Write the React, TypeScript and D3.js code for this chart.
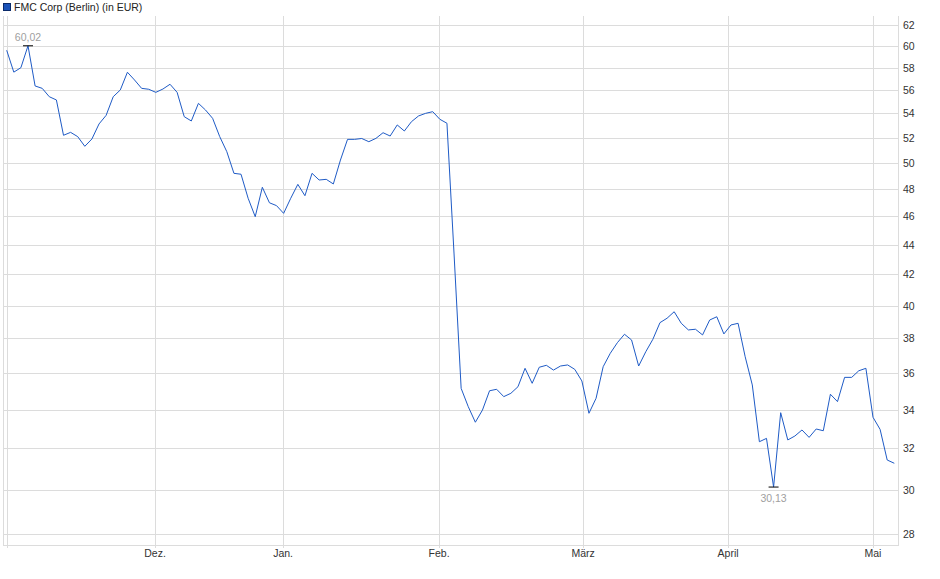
import React from "react";
import * as d3 from "d3";

const seriesName = "FMC Corp (Berlin) (in EUR)";
const prices: number[] = [
  59.6, 57.6, 58.0, 60.02, 56.37, 56.16, 55.43, 55.15, 52.19, 52.43,
  52.08, 51.3, 51.89, 53.12, 53.84, 55.43, 56.02, 57.59, 56.9, 56.16,
  56.08, 55.81, 56.1, 56.52, 55.81, 53.73, 53.37, 54.86, 54.29, 53.59,
  52.08, 50.87, 49.18, 49.11, 47.3, 45.96, 48.12, 46.97, 46.76, 46.2,
  47.3, 48.34, 47.49, 49.18, 48.67, 48.72, 48.37, 50.21, 51.86, 51.86,
  51.93, 51.67, 51.94, 52.4, 52.13, 53.04, 52.54, 53.31, 53.79, 54.01,
  54.15, 53.51, 53.18, 43.36, 35.15, 34.16, 33.34, 33.98, 35.02, 35.1,
  34.7, 34.88, 35.24, 36.27, 35.43, 36.33, 36.44, 36.17, 36.4, 36.46,
  36.21, 35.56, 33.81, 34.61, 36.36, 37.13, 37.75, 38.25, 37.91, 36.4,
  37.22, 37.95, 38.95, 39.22, 39.62, 38.91, 38.51, 38.55, 38.21, 39.11,
  39.31, 38.27, 38.81, 38.91, 36.93, 35.34, 32.34, 32.51, 30.13, 33.84,
  32.43, 32.63, 32.94, 32.56, 32.99, 32.9, 34.83, 34.43, 35.76, 35.76,
  36.13, 36.27, 33.6, 32.97, 31.43, 31.27,
];
const monthLabels = ["Dez.", "Jan.", "Feb.", "März", "April", "Mai"];
const monthPositions = [20.89, 38.92, 60.89, 81.17, 101.59, 122.0];
const yTicks = [28, 30, 32, 34, 36, 38, 40, 42, 44, 46, 48, 50, 52, 54, 56, 58, 60, 62];
const maxLabel = "60,02";
const minLabel = "30,13";

const W = 940;
const H = 579;
const left = 3;
const right = 898;
const top = 16;
const bottom = 545;
const font = "'Liberation Sans', Arial, sans-serif";
const gridColor = "#dcdcdc";
const fs = 10.5;

export default function App() {
  const x = d3.scaleLinear().domain([0, prices.length - 1]).range([6.7, 894.3]);
  const y = d3.scaleLog().domain([28, 62]).range([534, 25]);
  const line = d3
    .line<number>()
    .x((_, i) => x(i))
    .y((d) => y(d));

  const maxIdx = d3.maxIndex(prices);
  const minIdx = d3.minIndex(prices);

  return (
    <svg
      width={W}
      height={H}
      style={{ position: "absolute", left: 0, top: 0, background: "#fff" }}
      fontFamily={font}
    >
      {/* legend */}
      <rect x={3.5} y={3.5} width={7} height={7} fill="#1a52b8" stroke="#0a2a6a" strokeWidth={1} />
      <text x={14} y={11} fontSize={fs} fill="#222">
        {seriesName}
      </text>

      {/* horizontal grid */}
      {yTicks.map((t) => (
        <line
          key={"h" + t}
          x1={left}
          x2={right}
          y1={Math.round(y(t)) + 0.5}
          y2={Math.round(y(t)) + 0.5}
          stroke={gridColor}
          strokeWidth={1}
        />
      ))}
      {/* y labels */}
      {yTicks.map((t) => (
        <text key={"yl" + t} x={903} y={y(t) + 4} fontSize={fs} fill="#333">
          {t}
        </text>
      ))}

      {/* vertical grid */}
      <line x1={left + 0.5} x2={left + 0.5} y1={top} y2={bottom} stroke={gridColor} />
      <line x1={Math.round(x(0)) + 0.5} x2={Math.round(x(0)) + 0.5} y1={top} y2={bottom + 3} stroke={gridColor} />
      {monthPositions.map((m, i) => (
        <line
          key={"v" + i}
          x1={Math.round(x(m)) + 0.5}
          x2={Math.round(x(m)) + 0.5}
          y1={top}
          y2={bottom + 3}
          stroke={gridColor}
        />
      ))}
      <line x1={right + 0.5} x2={right + 0.5} y1={top} y2={bottom} stroke={gridColor} />
      <line x1={left} x2={right + 1} y1={bottom + 0.5} y2={bottom + 0.5} stroke={gridColor} />

      {/* x labels */}
      {monthPositions.map((m, i) => (
        <text key={"xl" + i} x={x(m)} y={557} fontSize={fs} fill="#333" textAnchor="middle">
          {monthLabels[i]}
        </text>
      ))}

      {/* series */}
      <path d={line(prices) || ""} fill="none" stroke="#1f5bc6" strokeWidth={1} />

      {/* max/min annotations */}
      <line x1={x(maxIdx) - 5} x2={x(maxIdx) + 5} y1={y(prices[maxIdx])} y2={y(prices[maxIdx])} stroke="#000" strokeWidth={1} />
      <text x={x(maxIdx)} y={y(prices[maxIdx]) - 5} fontSize={fs} fill="#a0a0a0" textAnchor="middle">
        {maxLabel}
      </text>
      <line x1={x(minIdx) - 5} x2={x(minIdx) + 5} y1={y(prices[minIdx])} y2={y(prices[minIdx])} stroke="#000" strokeWidth={1} />
      <text x={x(minIdx)} y={y(prices[minIdx]) + 15} fontSize={fs} fill="#a0a0a0" textAnchor="middle">
        {minLabel}
      </text>
    </svg>
  );
}
